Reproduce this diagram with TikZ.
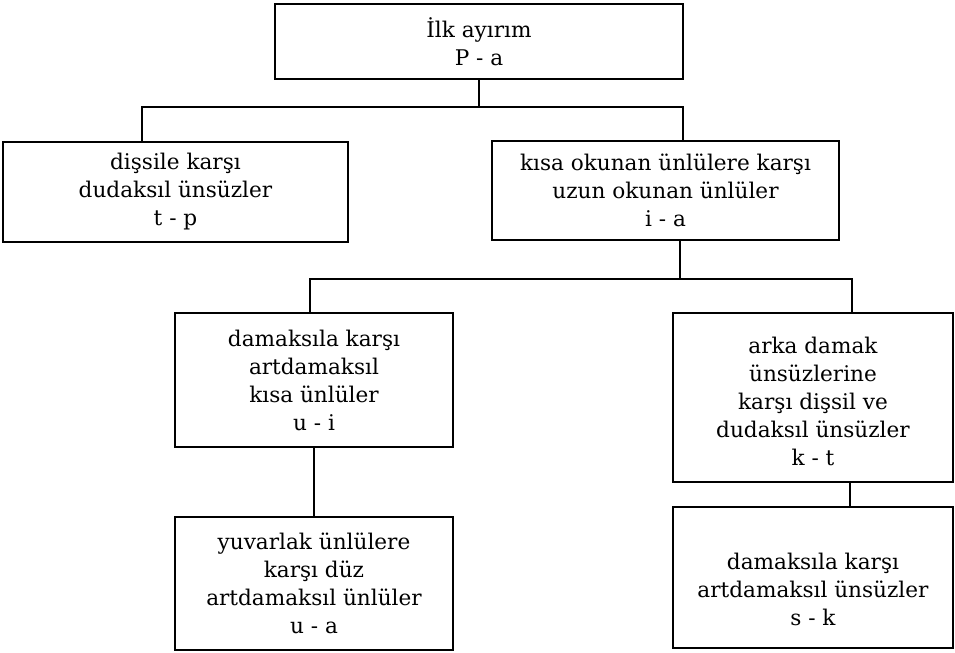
\documentclass[tikz,border=0pt]{standalone}
\usepackage{fontspec}
\setmainfont{DejaVu Serif}

\tikzset{
  kutu/.style={draw, line width=1.4pt, align=center, inner sep=0pt,
    font=\fontsize{10.8}{14}\selectfont},
  bag/.style={line width=1.1pt},
}

\begin{document}
\begin{tikzpicture}[x=0.5pt, y=-0.5pt]
    \useasboundingbox (0,0) rectangle (955,653);

    % ilk ayirim
    \node[kutu, minimum width=204pt, minimum height=37.5pt] (ilk) at (479,41.5)
        {İlk ayırım\\P - a};

    % birinci duzey
    \node[kutu, minimum width=172.5pt, minimum height=50pt] (dis) at (175.5,192)
        {dişsile karşı\\dudaksıl ünsüzler\\t - p};
    \node[kutu, minimum width=173.5pt, minimum height=49.5pt] (kisa) at (665.5,190.5)
        {kısa okunan ünlülere karşı\\uzun okunan ünlüler\\i - a};

    % ikinci duzey
    \node[kutu, minimum width=139pt, minimum height=67pt] (damak) at (314,380)
        {damaksıla karşı\\artdamaksıl\\kısa ünlüler\\u - i};
    \node[kutu, minimum width=140pt, minimum height=84.5pt] (arka) at (813,397.5)
        {\rule{0pt}{12pt}arka damak\\ünsüzlerine\\karşı dişsil ve\\dudaksıl ünsüzler\\k - t};

    % ucuncu duzey
    \node[kutu, minimum width=139pt, minimum height=66.5pt] (yuv) at (314,583.5)
        {yuvarlak ünlülere\\karşı düz\\artdamaksıl ünlüler\\u - a};
    \node[kutu, minimum width=140pt, minimum height=70.5pt] (sk) at (813,577.5)
        {\rule{0pt}{20pt}damaksıla karşı\\artdamaksıl ünsüzler\\s - k};

    % baglantilar
    \coordinate (c1) at (142,107);
    \coordinate (c2) at (683,107);
    \coordinate (c3) at (310,279);
    \coordinate (c4) at (852,279);
    \coordinate (c5) at (680,279);
    \draw[bag] (ilk.south) -- (ilk.south |- c1);
    \draw[bag] (c1 |- dis.north) -- (c1) -- (c2) -- (c2 |- kisa.north);
    \draw[bag] (c5 |- kisa.south) -- (c5);
    \draw[bag] (c3 |- damak.north) -- (c3) -- (c4) -- (c4 |- arka.north);
    \draw[bag] (damak.south) -- (yuv.north);
    \draw[bag] ([xshift=18.5pt]arka.south) -- ([xshift=18.5pt]sk.north);
\end{tikzpicture}
\end{document}
